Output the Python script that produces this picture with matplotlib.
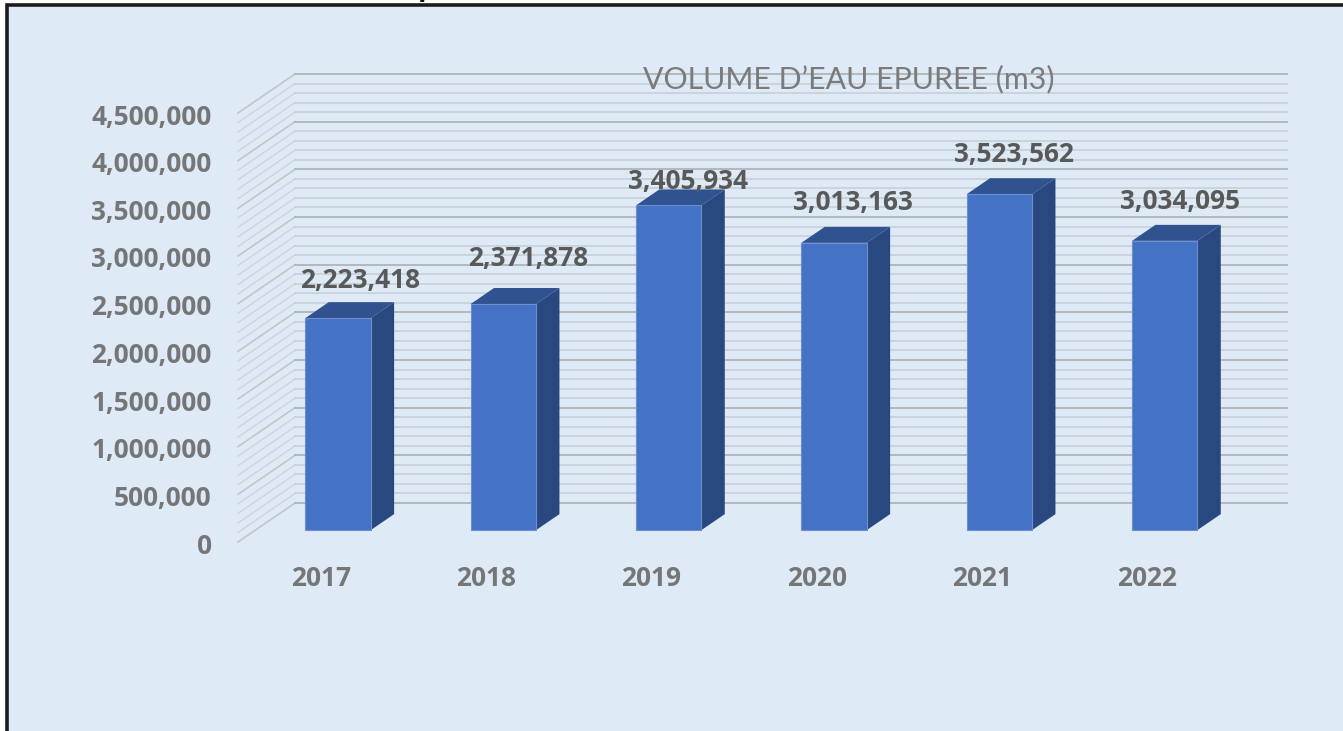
import matplotlib
matplotlib.use("Agg")
import matplotlib.pyplot as plt
from matplotlib.patches import Polygon, Rectangle
from matplotlib.transforms import ScaledTranslation

years = ["2017", "2018", "2019", "2020", "2021", "2022"]
volumes = [2223418, 2371878, 3405934, 3013163, 3523562, 3034095]
value_labels = ["2,223,418", "2,371,878", "3,405,934", "3,013,163", "3,523,562", "3,034,095"]
y_ticks = [0, 500000, 1000000, 1500000, 2000000, 2500000, 3000000, 3500000, 4000000, 4500000]
minor_step = 100000
title = "VOLUME D\u2019EAU EPUREE (m3)"
cropped_title = "Volume d\u2019eau \u00e9pur\u00e9e (m3)"

W, H = 1343, 731
BG = "#deeaf6"
FRONT, SIDE, TOP = "#4472c4", "#2a4880", "#30538f"

fig = plt.figure(figsize=(W / 100, H / 100), dpi=100, facecolor="white")

# The outer frame (runs past the right and bottom edges of the picture)
fig.add_artist(Rectangle((6.5 / W, -0.1), 1.2, 1.1 - 4.5 / H, transform=fig.transFigure,
                         facecolor=BG, edgecolor="#1c1c1e", linewidth=2.6, zorder=-1))

# Axes = the front plane of the 3-D box, px 238..1230 and px 113..542
ax = fig.add_axes([238 / W, 1 - 542 / H, (1230 - 238) / W, (542 - 113) / H])
ax.patch.set_alpha(0)
ax.set_xlim(-0.5, 5.5)
ax.set_ylim(0, 4500000)
for s in ax.spines.values():
    s.set_visible(False)

px_x = 6 / (1230 - 238)           # data units per pixel
px_y = 4500000 / (542 - 113)
DX, DY = 57 * px_x, 39 * px_y     # full depth of the box


def grid_value(v):
    return v % 500000 == 0


v = 0
while v <= 4500000:
    major = grid_value(v)
    col = "#b0b4b8" if major else "#c6ccd3"
    lw = 1.3 if major else 1.1
    ax.plot([-0.5, -0.5 + DX], [v, v + DY], color="#c3c6c9" if major else "#d0d4d8",
            lw=1.2 if major else 1.0, clip_on=False, zorder=1)
    ax.plot([-0.5 + DX, 5.5 + DX], [v + DY, v + DY], color=col, lw=lw, clip_on=False, zorder=1)
    v += minor_step

# Bars: a front face set 0.3 into the depth, with side and top faces
D0, D1 = 0.305, 0.715
half = 32.7 * px_x
for i, val in enumerate(volumes):
    x0 = i + D0 * DX - half
    x1 = i + D0 * DX + half
    y0 = D0 * DY
    y1 = val + D0 * DY
    sx = (D1 - D0) * DX
    sy = (D1 - D0) * DY
    ax.add_patch(Polygon([(x1, y0), (x1 + sx, y0 + sy), (x1 + sx, y1 + sy), (x1, y1)],
                         facecolor=SIDE, edgecolor="none", clip_on=False, zorder=3))
    ax.add_patch(Polygon([(x0, y1), (x1, y1), (x1 + sx, y1 + sy), (x0 + sx, y1 + sy)],
                         facecolor=TOP, edgecolor="none", clip_on=False, zorder=3))
    ax.add_patch(Rectangle((x0, y0), x1 - x0, y1 - y0, facecolor=FRONT,
                           edgecolor="#6d8fcf", linewidth=0.8, clip_on=False, zorder=4))

label_font = dict(family="Open Sans", fontweight="bold", fontsize=18.9)

# Data labels, nudged like the hand-placed ones in the reference
label_nudge = [(22, 38), (25, 45), (19, 24), (19, 40), (15, 40), (15, 39)]
for i, val in enumerate(volumes):
    nx, ny = label_nudge[i]
    ax.annotate(value_labels[i], (i + D0 * DX, val + D0 * DY), xytext=(nx * 0.72, ny * 0.72),
                textcoords="offset points", ha="center", va="center", color="#595959",
                zorder=6, annotation_clip=False, **label_font)

# Axis tick labels
ax.set_yticks(y_ticks)
ax.set_yticklabels([f"{t:,}" for t in y_ticks], color="#767676", **label_font)
ax.set_xticks(range(len(years)))
ax.set_xticklabels(years, color="#767676", **label_font)
ax.tick_params(length=0)
ax.tick_params(axis="y", pad=19)
ax.tick_params(axis="x", pad=16.5)
shift_down = ScaledTranslation(0, -1 / 100, fig.dpi_scale_trans)
for lab in ax.get_yticklabels():
    lab.set_transform(lab.get_transform() + shift_down)

fig.text(848.5 / W, 1 - 79 / H, title, ha="center", va="center", color="#7b7b7b",
         family="Lato", fontsize=21.8)
fig.text(568 / W, 1 + 4.5 / H, cropped_title, ha="right", va="baseline", color="#111111",
         family="Open Sans", fontweight="bold", fontsize=20)

fig.savefig("out.png", dpi=100, facecolor="white")
